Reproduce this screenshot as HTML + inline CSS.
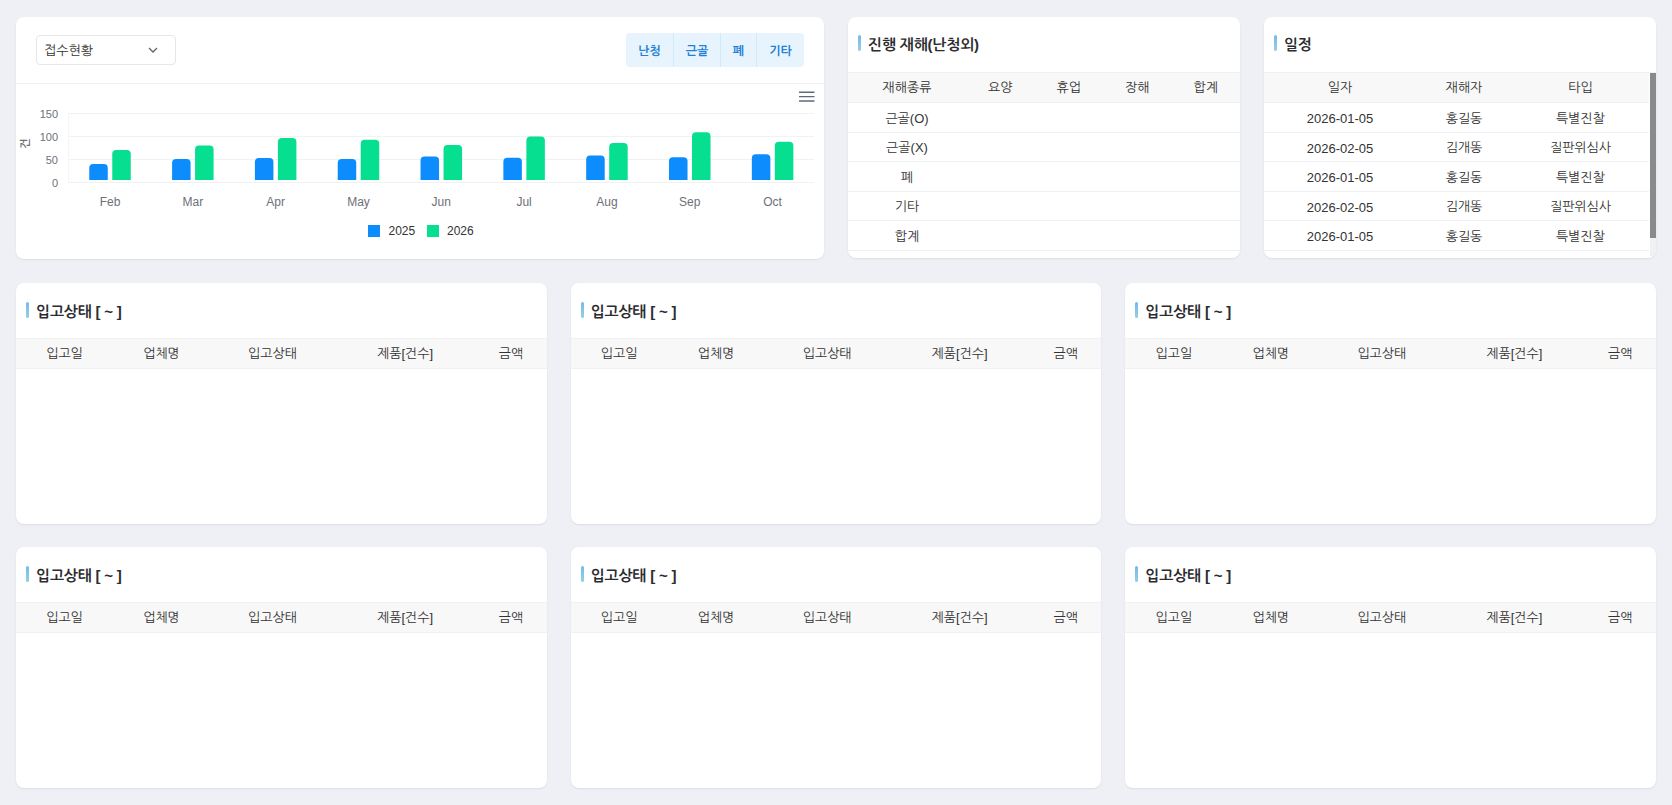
<!DOCTYPE html>
<html lang="ko">
<head>
<meta charset="utf-8">
<title>Dashboard</title>
<style>
*{box-sizing:border-box;margin:0;padding:0}
html,body{width:1672px;height:805px;overflow:hidden}
body{background:#eff0f5;font-family:"Liberation Sans","NanumGothic",sans-serif;color:#333;font-size:13px;position:relative}
.card{position:absolute;background:#fff;border-radius:8px;box-shadow:0 1px 2px rgba(0,0,0,.08);overflow:hidden}
.ttl{position:absolute;left:10px;top:20px;height:16px;line-height:16px;padding-left:10px;font-weight:700;font-size:15px;color:#2c2c30;white-space:nowrap;letter-spacing:-0.2px}
.ttl:before{content:"";position:absolute;left:0;top:-2px;width:3px;height:16px;border-radius:2px;background:linear-gradient(180deg,#74baf0,#94d1dc)}
table{border-collapse:collapse;table-layout:fixed;position:absolute;left:0;top:55px}
th,td{text-align:center;font-weight:400;white-space:nowrap;padding:0;font-size:13px}
th{background:#f8f8f8;color:#333;height:30px;border-top:1px solid #f1f1f1;border-bottom:1px solid #f1f1f1;padding-top:1px}
td{height:29.5px;border-bottom:1px solid #eef0f4;color:#333;padding-top:3px}
.sel{position:absolute;left:20px;top:18px;width:140px;height:30px;border:1px solid #e5e6eb;border-radius:4px;padding-left:7px;line-height:30px;font-size:13px;color:#333}
.sel svg{position:absolute;left:111px;top:11px}
.bg{position:absolute;left:610px;top:16px;height:34px;display:flex;background:#e8f4fd;border-radius:4px;overflow:hidden}
.bg span{display:block;height:34px;line-height:36px;text-align:center;font-size:12px;color:#2181d6;font-weight:700;border-left:1px solid #d3e8f8}
.bg span:first-child{border-left:0}
.hr{position:absolute;left:0;right:0;top:66px;height:1px;background:#f0f0f1}
</style>
</head>
<body>

<!-- Card 1: chart -->
<div class="card" style="left:16px;top:17px;width:808px;height:242px">
  <div class="sel">접수현황<svg width="10" height="6" viewBox="0 0 10 6"><path d="M1 1l4 4 4-4" fill="none" stroke="#606266" stroke-width="1.3"/></svg></div>
  <div class="bg"><span style="width:47px">난청</span><span style="width:47px">근골</span><span style="width:36px">폐</span><span style="width:48px">기타</span></div>
  <div class="hr"></div>
  <svg id="chart" width="808" height="242" viewBox="16 17 808 242" style="position:absolute;left:0;top:0" font-family="Liberation Sans, sans-serif">
<line x1="68.6" y1="113.5" x2="814.0" y2="113.5" stroke="#f1f2f4" stroke-width="1"/>
<text x="58" y="117.8" text-anchor="end" font-size="11" fill="#6e7079">150</text>
<line x1="68.6" y1="136.5" x2="814.0" y2="136.5" stroke="#f1f2f4" stroke-width="1"/>
<text x="58" y="140.8" text-anchor="end" font-size="11" fill="#6e7079">100</text>
<line x1="68.6" y1="159.5" x2="814.0" y2="159.5" stroke="#f1f2f4" stroke-width="1"/>
<text x="58" y="163.8" text-anchor="end" font-size="11" fill="#6e7079">50</text>
<line x1="68.6" y1="182.5" x2="814.0" y2="182.5" stroke="#f1f2f4" stroke-width="1"/>
<text x="58" y="186.8" text-anchor="end" font-size="11" fill="#6e7079">0</text>
<line x1="68.6" y1="113" x2="68.6" y2="183" stroke="#f4f5f7" stroke-width="1"/>
<path d="M89.26 180.0 V168.10 Q89.26 164.10 93.26 164.10 H103.76 Q107.76 164.10 107.76 168.10 V180.0 Z" fill="#0c8cfd"/>
<path d="M112.26 180.0 V153.90 Q112.26 149.90 116.26 149.90 H126.76 Q130.76 149.90 130.76 153.90 V180.0 Z" fill="#05df8f"/>
<text x="110.01" y="206" text-anchor="middle" font-size="12" fill="#6e7079">Feb</text>
<path d="M172.08 180.0 V163.00 Q172.08 159.00 176.08 159.00 H186.58 Q190.58 159.00 190.58 163.00 V180.0 Z" fill="#0c8cfd"/>
<path d="M195.08 180.0 V149.60 Q195.08 145.60 199.08 145.60 H209.58 Q213.58 145.60 213.58 149.60 V180.0 Z" fill="#05df8f"/>
<text x="192.83" y="206" text-anchor="middle" font-size="12" fill="#6e7079">Mar</text>
<path d="M254.91 180.0 V162.00 Q254.91 158.00 258.91 158.00 H269.41 Q273.41 158.00 273.41 162.00 V180.0 Z" fill="#0c8cfd"/>
<path d="M277.91 180.0 V141.90 Q277.91 137.90 281.91 137.90 H292.41 Q296.41 137.90 296.41 141.90 V180.0 Z" fill="#05df8f"/>
<text x="275.66" y="206" text-anchor="middle" font-size="12" fill="#6e7079">Apr</text>
<path d="M337.73 180.0 V163.00 Q337.73 159.00 341.73 159.00 H352.23 Q356.23 159.00 356.23 163.00 V180.0 Z" fill="#0c8cfd"/>
<path d="M360.73 180.0 V143.80 Q360.73 139.80 364.73 139.80 H375.23 Q379.23 139.80 379.23 143.80 V180.0 Z" fill="#05df8f"/>
<text x="358.48" y="206" text-anchor="middle" font-size="12" fill="#6e7079">May</text>
<path d="M420.55 180.0 V160.40 Q420.55 156.40 424.55 156.40 H435.05 Q439.05 156.40 439.05 160.40 V180.0 Z" fill="#0c8cfd"/>
<path d="M443.55 180.0 V148.90 Q443.55 144.90 447.55 144.90 H458.05 Q462.05 144.90 462.05 148.90 V180.0 Z" fill="#05df8f"/>
<text x="441.30" y="206" text-anchor="middle" font-size="12" fill="#6e7079">Jun</text>
<path d="M503.37 180.0 V161.80 Q503.37 157.80 507.37 157.80 H517.87 Q521.87 157.80 521.87 161.80 V180.0 Z" fill="#0c8cfd"/>
<path d="M526.37 180.0 V140.50 Q526.37 136.50 530.37 136.50 H540.87 Q544.87 136.50 544.87 140.50 V180.0 Z" fill="#05df8f"/>
<text x="524.12" y="206" text-anchor="middle" font-size="12" fill="#6e7079">Jul</text>
<path d="M586.19 180.0 V159.60 Q586.19 155.60 590.19 155.60 H600.69 Q604.69 155.60 604.69 159.60 V180.0 Z" fill="#0c8cfd"/>
<path d="M609.19 180.0 V147.00 Q609.19 143.00 613.19 143.00 H623.69 Q627.69 143.00 627.69 147.00 V180.0 Z" fill="#05df8f"/>
<text x="606.94" y="206" text-anchor="middle" font-size="12" fill="#6e7079">Aug</text>
<path d="M669.02 180.0 V161.20 Q669.02 157.20 673.02 157.20 H683.52 Q687.52 157.20 687.52 161.20 V180.0 Z" fill="#0c8cfd"/>
<path d="M692.02 180.0 V136.20 Q692.02 132.20 696.02 132.20 H706.52 Q710.52 132.20 710.52 136.20 V180.0 Z" fill="#05df8f"/>
<text x="689.77" y="206" text-anchor="middle" font-size="12" fill="#6e7079">Sep</text>
<path d="M751.84 180.0 V158.20 Q751.84 154.20 755.84 154.20 H766.34 Q770.34 154.20 770.34 158.20 V180.0 Z" fill="#0c8cfd"/>
<path d="M774.84 180.0 V145.80 Q774.84 141.80 778.84 141.80 H789.34 Q793.34 141.80 793.34 145.80 V180.0 Z" fill="#05df8f"/>
<text x="772.59" y="206" text-anchor="middle" font-size="12" fill="#6e7079">Oct</text>
<text x="0" y="0" transform="translate(29.4 143.5) rotate(-90)" text-anchor="middle" font-size="11" font-weight="700" fill="#6e7079" font-family="Liberation Sans, NanumGothic, sans-serif">건</text>
<rect x="368" y="225" width="12" height="12" fill="#0c8cfd"/>
<text x="388.5" y="235" font-size="12" fill="#333">2025</text>
<rect x="427" y="225" width="12" height="12" fill="#05df8f"/>
<text x="447" y="235" font-size="12" fill="#333">2026</text>
<line x1="799" y1="92.2" x2="814.5" y2="92.2" stroke="#5e6a78" stroke-width="1.4"/>
<line x1="799" y1="96.6" x2="814.5" y2="96.6" stroke="#5e6a78" stroke-width="1.4"/>
<line x1="799" y1="101.0" x2="814.5" y2="101.0" stroke="#5e6a78" stroke-width="1.4"/>
  </svg>
</div>

<!-- Card 2 -->
<div class="card" style="left:848px;top:17px;width:392px;height:241px">
  <div class="ttl">진행 재해(난청외)</div>
  <table style="width:392px">
    <colgroup><col style="width:118px"><col style="width:68.5px"><col style="width:68.5px"><col style="width:68.5px"><col style="width:68.5px"></colgroup>
    <tr><th>재해종류</th><th>요양</th><th>휴업</th><th>장해</th><th>합계</th></tr>
    <tr><td>근골(O)</td><td></td><td></td><td></td><td></td></tr>
    <tr><td>근골(X)</td><td></td><td></td><td></td><td></td></tr>
    <tr><td>폐</td><td></td><td></td><td></td><td></td></tr>
    <tr><td>기타</td><td></td><td></td><td></td><td></td></tr>
    <tr><td>합계</td><td></td><td></td><td></td><td></td></tr>
  </table>
</div>

<!-- Card 3 -->
<div class="card" style="left:1264px;top:17px;width:392px;height:241px">
  <div class="ttl">일정</div>
  <table style="width:385px">
    <colgroup><col style="width:152px"><col style="width:96px"><col style="width:137px"></colgroup>
    <tr><th>일자</th><th>재해자</th><th>타입</th></tr>
    <tr><td>2026-01-05</td><td>홍길동</td><td>특별진찰</td></tr>
    <tr><td>2026-02-05</td><td>김개똥</td><td>질판위심사</td></tr>
    <tr><td>2026-01-05</td><td>홍길동</td><td>특별진찰</td></tr>
    <tr><td>2026-02-05</td><td>김개똥</td><td>질판위심사</td></tr>
    <tr><td>2026-01-05</td><td>홍길동</td><td>특별진찰</td></tr>
  </table>
  <div style="position:absolute;left:386px;top:55px;width:6px;height:184px;background:#f1f1f3"></div>
  <div style="position:absolute;left:386px;top:56px;width:6px;height:165px;background:#8a8a8a"></div>
</div>

<!-- Row 2/3 cards -->
<div class="card" style="left:16px;top:283px;width:531px;height:241px">
  <div class="ttl" style="top:21px">입고상태 [ ~ ]</div>
  <table style="width:531px"><colgroup><col style="width:97px"><col style="width:97px"><col style="width:125px"><col style="width:140px"><col style="width:72px"></colgroup>
  <tr><th>입고일</th><th>업체명</th><th>입고상태</th><th>제품[건수]</th><th>금액</th></tr></table>
</div>
<div class="card" style="left:570.67px;top:283px;width:530.67px;height:241px">
  <div class="ttl" style="top:21px">입고상태 [ ~ ]</div>
  <table style="width:531px"><colgroup><col style="width:97px"><col style="width:97px"><col style="width:125px"><col style="width:140px"><col style="width:72px"></colgroup>
  <tr><th>입고일</th><th>업체명</th><th>입고상태</th><th>제품[건수]</th><th>금액</th></tr></table>
</div>
<div class="card" style="left:1125.33px;top:283px;width:530.67px;height:241px">
  <div class="ttl" style="top:21px">입고상태 [ ~ ]</div>
  <table style="width:531px"><colgroup><col style="width:97px"><col style="width:97px"><col style="width:125px"><col style="width:140px"><col style="width:72px"></colgroup>
  <tr><th>입고일</th><th>업체명</th><th>입고상태</th><th>제품[건수]</th><th>금액</th></tr></table>
</div>
<div class="card" style="left:16px;top:547px;width:531px;height:241px">
  <div class="ttl" style="top:21px">입고상태 [ ~ ]</div>
  <table style="width:531px"><colgroup><col style="width:97px"><col style="width:97px"><col style="width:125px"><col style="width:140px"><col style="width:72px"></colgroup>
  <tr><th>입고일</th><th>업체명</th><th>입고상태</th><th>제품[건수]</th><th>금액</th></tr></table>
</div>
<div class="card" style="left:570.67px;top:547px;width:530.67px;height:241px">
  <div class="ttl" style="top:21px">입고상태 [ ~ ]</div>
  <table style="width:531px"><colgroup><col style="width:97px"><col style="width:97px"><col style="width:125px"><col style="width:140px"><col style="width:72px"></colgroup>
  <tr><th>입고일</th><th>업체명</th><th>입고상태</th><th>제품[건수]</th><th>금액</th></tr></table>
</div>
<div class="card" style="left:1125.33px;top:547px;width:530.67px;height:241px">
  <div class="ttl" style="top:21px">입고상태 [ ~ ]</div>
  <table style="width:531px"><colgroup><col style="width:97px"><col style="width:97px"><col style="width:125px"><col style="width:140px"><col style="width:72px"></colgroup>
  <tr><th>입고일</th><th>업체명</th><th>입고상태</th><th>제품[건수]</th><th>금액</th></tr></table>
</div>

</body>
</html>
